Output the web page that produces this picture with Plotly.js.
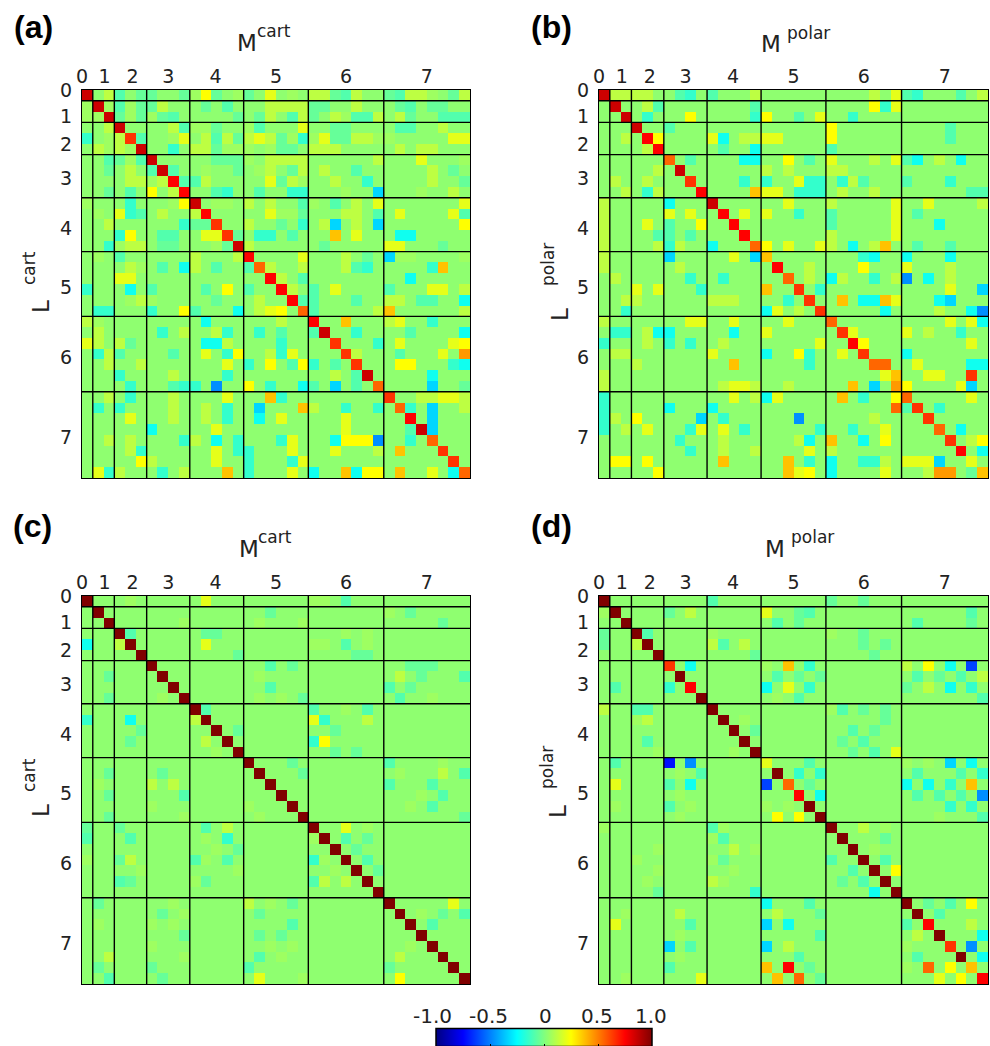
<!DOCTYPE html>
<html><head><meta charset="utf-8">
<script src="https://cdn.plot.ly/plotly-3.0.1.min.js"></script>
<style>html,body{margin:0;padding:0;background:#fff}#g{width:990px;height:1046px}</style>
</head><body><div id="g"></div>
<script>
// Level codes -> correlation values
const levelValues = {'.':0.03,'+':0.06,'l':0.12,'y':0.2,'Y':0.25,'o':0.37,'O':0.45,'f':0.55,'r':0.65,'R':0.75,'K':0.85,'X':1.0,
  '-':-0.05,'=':-0.09,'c':-0.15,'C':-0.22,'b':-0.33,'B':-0.47,'D':-0.62,'E':-0.72};
const blockSizes = [1,2,3,4,5,6,7,8];
const tickText = ['0','1','2','3','4','5','6','7'];
const xTickPos = [-0.5,1.6,4.2,7.5,11.9,17.5,24,31.5];
const yTickPos = [-0.5,1.9,4.5,7.7,12.3,17.8,24.3,31.7];
const barTickVals = [-1,-0.5,0,0.5,1];
const barTickText = ['-1.0','-0.5','0','0.5','1.0'];

const matA = [
"K .l =.- -..- +Y-.+ -.y.+. ll-=l.. -=ll+.-l",
"+ K+ =+- -l.. .-.=. ..llll --..l.. .-=.--..",
"+ +K -+- +-=. ....- .-l.=l -.l+==l .l-..===",
". .l K.. ..l= ++-.. +=...y ..--... .==..l..",
"c .+ lr= ..+y .l=l- lyl-+c +y--ll+ +.....yy",
". l+ l+K ..c. ll-++ +.+--. lll.... .l.ll...",
". .= -+= K... ..--- +.llll ......l ...y...+",
". .- .l. =K=. .+..- .+l.-l .l..=.. ....l.-.",
". .. .ll +lR= =l... ..y-l+ ..l..c. ....l..-",
". .- .=. Y.lR ..=c. .=..cc ...+..b ...+..l.",
"+ .. .c. ..+Y K.++. l.l..= +.=.l.y .......y",
". +. yc= .l.. lR... ..y++- ...ll.= .y....y=",
". .l ... ...c --r.. l..-.c .lb.l.b .......Y",
". .. cY. .==. .yyr- .cc.=. ..o.y.. .CC.....",
". .c +ll .--. ..+-K l..... .-..... yy...-..",
". +. =.. .... l...l R....y ...l.-. b++....+",
". .. .l+ .=.C l.=.. =fl..l ...l=c. ....co..",
". .. yy. .... ..... ..Rl.= ....... ..C.....",
"c .. .C. =... .=.Y. =..Rl. =.y.... =...yy.l",
". .. .+l +... ..-.. .l..R= =...=.. ll.==..C",
". cc ... c..Y =...C .lyY.f =.....l o......l",
"l +. ... .... .C... ...l.. R..o... ly..c...",
". l. ... .c.l ..lc. .c.=.. =K..c.. ..=....C",
"y l. l-. .... .CCl. ...c.. ..r...c .y....yY",
". cl =.. ..=. .y.cY ..lcy. ...rl.. .=...y.O",
". .l ..l .... ...y. c.Y.=Y c.=.r.. .YY...cC",
". .. c.. ..l. ...c. ...... ..l.=K. ....C...",
". .. .c. ..=c c.B.. Y.c..C =.b.=.f ....b..-",
". .l .c. ..l. ...y. ..oc.. ....... r..llyyl",
". c. c.. ..l. .l.c. .b...o l..c..c .fc.b..l",
". .. .y. ..l. .l.c. .C.y.. ...y... ..R.b...",
". .. ... C... ..y.. ...... ...y... ..=Kb...",
". .l .l. ...c l.C.c ...cy. ..CYYYB ..c.f...",
". .. .lc .... ..y.c c...y. ..y...l .o...r..",
". .. ..Y l... ..y.. c...cy ....... ......r.",
". yc l.. .c.l ...o. c...y. C..oCYY .o..y.Cf"];

const matB = [
"K ll ll. .=c. =...l ...... ....l.y =c...=.l",
". K. .l= .... ....= ...... ....Ycy ........",
". .K .c. ..Y. ....c Y..=.y ..c.... ........",
". .. K.. =... ..... ...... Y...... ....=...",
". .l .RY .... yC.ll yy.... Y...... ....=...",
". .. .lR .... .=..C ...... =...... ........",
". .. ... f.=. ...CC ..Y.=. y...l.y =C.l.C..",
". .. ..l .K.. ..... l.l... ll..... ........",
". l. .l. ..r. ...c. c..ycc .cl=... =...c...",
". .l .cl ...R ....o yy.ccc .l..l.. ......==",
"l .. ... C... K.... ..y... l.....y ..y....l",
"l .. ... y.y. .R.y. y..c.. =.....y .=......",
"l .. .y. =..Y ..R.. ...... =.....y ...C....",
"l .. ..= =.=. ...R. ...... l.....y ........",
"l .. ..l cl.. C...f Y.y..y l.C.lo. .=..=...",
"l .. ... b... ..y.b o..... ...cC.. C...C...",
"l .. ... .l.. ..... .R..l. ...Y... y...l...",
". l. ... ..c. .c... ..f.l. Cl..c.l B.C.l...",
". .. y.y ...c ..... o..r.c ....... ....y..b",
". .l l.. .... lll.. ..c.r. .o.CCoy ...Cb...",
". .c ... .... ..... Cy.l.r .....C. ...l..CB",
"l .. ... ..yy ..y.. ..y... f...... ....y.yC",
". cc .lC C... ..C.. y..... .ry.... y.l..c..",
"c .. .l. c.c. .l... .....y ..RY... ......y.",
". ll ... .... y.... C..Yc. .y.r... C.......",
". .. l.. .... ..o.. ....c. ....ff. .y....CC",
"l .. ... .... ..... ...... .....yo ..yy..r.",
"l .. ... .... .lyyl ..l... ..o.b.O Y....yb.",
"c .. ... .... ..y.l Cy.... .o.c..Y f.....y.",
"c .. ... C... C.... ...... ......f =r.c....",
"c l. Y.. ...b .c... ...B.. ....l.. ..r.....",
"c .l .y. ..cy .y.c. .....c ..c..y. ...f.C..",
". .. ... .c.. .l... ...lC. o..C.Y. ....r.lY",
". .. ... ..c. .l..l ....y. l...... .....R.C",
". YY .Y. .... .o... ..o.c. C..ccl. yyyb..y.",
". .. ..Y .... ..... ..oyY. C....y. ..lOO.-o"];

const matC = [
"0X 4+ 11y 21+ 22+ 24=","1X 17- 30- 28+","2X 9+ 16+ 20+ 33-","3X 4= 11- 12- 24+ 26+",
"0C 3l 4X 11y 21+ 22+ 24= 26+","5X 14- 25- 26-","6X 17= 19- 30- 32- 31-","2- 7X 16+ 29l 31- 35=",
"8X 17= 28= 30-","2- 7+ 9X 16+ 18+ 20- 29= 32+","10X 11= 21= 24+ 26=","0c 4C 10l 11X 21y 22c 26l",
"5- 12X 14- 23-","4- 11l 13X 21c 22Y","12+ 14X 23- 25-","15X 19- 28= 33+",
"2- 7- 16X 20- 29+ 33l 35=","1+ 6l 8l 17X 28= 32=","2- 9= 18X 31+ 33=","6+ 15+ 19X 30+ 32=",
"2- 9+ 16+ 20X 35-","0- 3- 11= 13l 21X 24y 26+","0= 4= 11+ 13c 21+ 22X 24= 26-","12+ 14- 23X 25-",
"0+ 3- 4l 10= 11+ 13= 21c 22+ 24X 26=","5+ 14+ 23+ 25X 27-","3= 4- 10+ 11- 21= 22l 24l 26X","27X",
"1- 8+ 15l 17+ 19- 28X 34y","7- 9+ 16- 29X 31+ 33- 35=","1+ 6+ 8+ 19= 30X 32=","9- 16- 18- 31X",
"6+ 17+ 19+ 30+ 32X","2l 9+ 16= 18+ 29l 33X","1- 6- 15= 28- 34X","2= 7- 16y 20+ 29Y 35X"];

const matD = [
"0X 10= 21- 24-","0+ 1X 6- 8l 15y 18- 19= 34=","2X 16= 18- 29= 34-","0- 3X 4= 10+ 21+ 24-",
"0- 3l 4X 10l 11= 13l 24- 26-","5X 14- 25-","6r 8C 15+ 17o 19c 28l 30Y 32C 34D","7X 16= 18- 20- 29= 31- 33= 35l",
"1= 6c 8R 15C 17y 19c 28- 30l 32C 34c","9X 16+ 18= 35=","0l 3= 4= 10X 21+ 22= 24- 26-","3+ 4l 11X 13+ 26-",
"12X 14- 23= 25-","4= 13X 22- 24=","5+ 12+ 14X 23- 25= 27y","1= 6E 8B 15y 19= 28+ 30+ 32b 34C",
"7+ 9= 16X 18c 20c 29= 33= 35c","1y 6= 8C 15D 17f 19- 28C 30C 32c 34o","7+ 18R 20C 29= 31= 33= 35B","1+ 6= 8+ 15+ 17+ 19X 32c 34c",
"7+ 16Y 18Y 20X 31+ 35=","0+ 10= 11+ 21X 24l 26+","10+ 11= 22X 26-","5+ 12l 14+ 23X 25+",
"3+ 10+ 11- 21= 24X 26=","5+ 12+ 23= 25X 27Y","4+ 10l 11+ 22- 24= 26X","5- 14c 25C 27X",
"15C 19= 28X 30- 32= 34Y","2+ 7l 16l 20- 29X 31=","1y 8= 15b 17C 28= 30R 34l","7+ 20= 29l 31X 35C",
"6b 8= 15b 17l 28+ 32r 34B","7+ 18= 29= 33X 35C","6= 15o 17R 19- 28+ 30f 32Y 34o","2+ 9y 16o 18f 20- 31y 33Y 35R"];

function fromDense(rows){return rows.map(r=>r.replace(/ /g,'').split('').map(c=>levelValues[c]));}
function fromSparse(rows){return rows.map(r=>{const a=new Array(36).fill(levelValues['.']);
  for(const m of r.matchAll(/(\d+)(\D)/g)) a[+m[1]]=levelValues[m[2]]; return a;});}

const jet=[[0,'rgb(0,0,128)'],[0.125,'rgb(0,0,255)'],[0.375,'rgb(0,255,255)'],[0.625,'rgb(255,255,0)'],[0.875,'rgb(255,0,0)'],[1,'rgb(128,0,0)']];
const W=990,H=1046,cellIdx=[...Array(36).keys()];
const panels=[
 {z:fromDense(matA),x:[82,470],y:[90,478],s:''},
 {z:fromDense(matB),x:[599,988],y:[90,478],s:'2'},
 {z:fromSparse(matC),x:[82,470],y:[596,984],s:'3'},
 {z:fromSparse(matD),x:[599,988],y:[596,984],s:'4'}];
const tickFont={family:'DejaVu Sans',size:19,color:'#222'};
const layout={width:W,height:H,margin:{l:0,r:0,t:0,b:0,autoexpand:false},paper_bgcolor:'#fff',plot_bgcolor:'#fff',showlegend:false,
 coloraxis:{colorscale:jet,cmin:-1,cmax:1,colorbar:{orientation:'h',lenmode:'pixels',len:216,thicknessmode:'pixels',thickness:18,
   x:544/W,xanchor:'center',y:-5/H,yanchor:'bottom',xpad:0,ypad:0,outlinewidth:1.5,outlinecolor:'#000',
   tickmode:'array',tickvals:barTickVals,ticktext:barTickText,ticks:'inside',ticklen:3,tickcolor:'#000',showticklabels:false}},
 shapes:[],annotations:[]};
const data=[];
panels.forEach(p=>{
 const xa='xaxis'+p.s,ya='yaxis'+p.s;
 data.push({type:'heatmap',z:p.z,x:cellIdx,y:cellIdx,xaxis:'x'+p.s,yaxis:'y'+p.s,coloraxis:'coloraxis'});
 layout[xa]={domain:[p.x[0]/W,p.x[1]/W],range:[-0.5,35.5],anchor:'y'+p.s,side:'top',tickmode:'array',tickvals:xTickPos,ticktext:tickText,
   ticks:'',tickfont:tickFont,ticklabelstandoff:-2,showgrid:false,zeroline:false,showline:true,mirror:true,linecolor:'#000',linewidth:1};
 layout[ya]={domain:[1-p.y[1]/H,1-p.y[0]/H],range:[35.5,-0.5],anchor:'x'+p.s,tickmode:'array',tickvals:yTickPos,ticktext:tickText,
   ticks:'',tickfont:tickFont,ticklabelstandoff:5,showgrid:false,zeroline:false,showline:true,mirror:true,linecolor:'#000',linewidth:1};
 let e=-0.5;
 blockSizes.slice(0,-1).forEach(b=>{e+=b;
  layout.shapes.push({type:'line',xref:'x'+p.s,yref:'y'+p.s,x0:e,x1:e,y0:-0.5,y1:35.5,line:{color:'#000',width:1.4},layer:'above'});
  layout.shapes.push({type:'line',xref:'x'+p.s,yref:'y'+p.s,x0:-0.5,x1:35.5,y0:e,y1:e,line:{color:'#000',width:1.4},layer:'above'});
 });
});
function label(px,py,text,size,o){layout.annotations.push(Object.assign({xref:'paper',yref:'paper',x:px/W,y:1-py/H,text:text,showarrow:false,
  xanchor:'center',yanchor:'middle',font:{family:'DejaVu Sans',size:size,color:'#222'}},o||{}));}
const boldFont=s=>({font:{family:'Liberation Sans',size:s,color:'#000'}});
[['<b>(a)</b>',33.5,27],['<b>(b)</b>',551,27],['<b>(c)</b>',32,526],['<b>(d)</b>',551,526]].forEach(a=>label(a[1],a[2],a[0],32,boldFont(32)));
[[247,43,273.5,31,'cart'],[771,44,808,33,'polar'],[249,549,275,537,'cart'],[775,549,812,537,'polar']].forEach(a=>{
 label(a[0],a[1],'M',23);label(a[2],a[3],a[4],17);});
[[41,307,29,268,'cart'],[560,315,548,265,'polar'],[41,811,29,775,'cart'],[558,812,547,768,'polar']].forEach(a=>{
 label(a[0],a[1],'L',23,{textangle:-90});label(a[2],a[3],a[4],17,{textangle:-90});});
const barLabelX=[432,488,545,597,651];
barTickText.forEach((t,i)=>label(barLabelX[i],1016,t,20));
Plotly.newPlot('g',data,layout,{staticPlot:true,displayModeBar:false});
</script></body></html>
